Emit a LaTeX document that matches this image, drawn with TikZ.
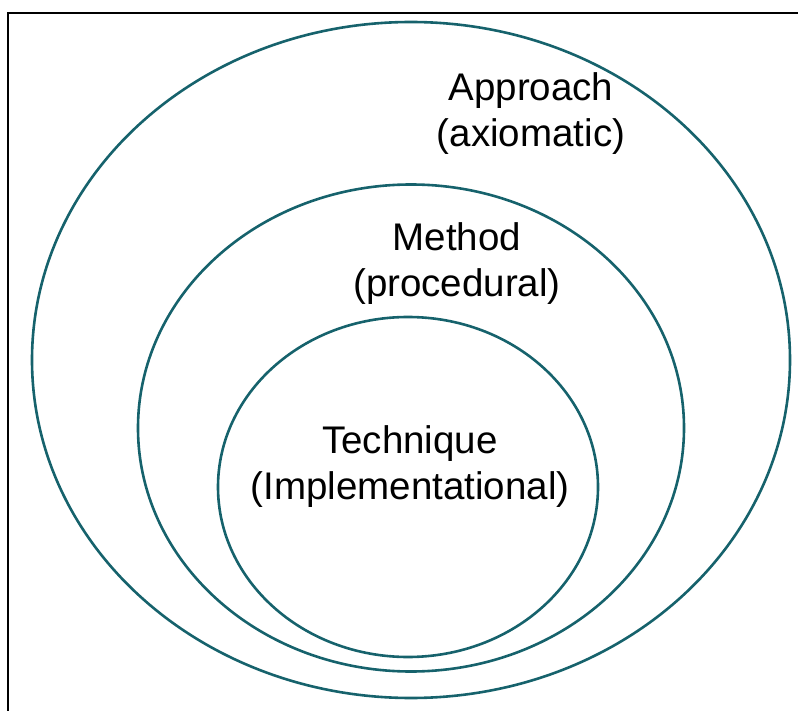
\documentclass[tikz,border=0pt]{standalone}
\usepackage{fontspec}
\setmainfont{Liberation Sans}
\usetikzlibrary{shapes.geometric}
\definecolor{teal}{RGB}{22,98,108}

\begin{document}
\begin{tikzpicture}[x=1pt, y=-1pt, ring/.style={draw=teal, ellipse, line width=2.6pt, inner sep=0pt}, label/.style={align=center, font=\fontsize{38.5}{46}\selectfont}]
  \useasboundingbox (0,0) rectangle (798,711);
  \draw[line width=2.4pt] (8,711) -- (8,13) -- (798,13);

  \node (Approach) [ring, minimum width=758pt, minimum height=676pt] at (411,360) {};
  \node (Method) [ring, minimum width=546pt, minimum height=487pt] at (411,428) {};
  \node (Technique) [ring, minimum width=380pt, minimum height=340pt] at (408,487) {};

  \node (ApproachText) [label] at (531,114) {Approach\\(axiomatic)};
  \node (MethodText) [label] at (457,264) {Method\\(procedural)};
  \node (TechniqueText) [label] at (410,467) {Technique\\(Implementational)};
\end{tikzpicture}
\end{document}
